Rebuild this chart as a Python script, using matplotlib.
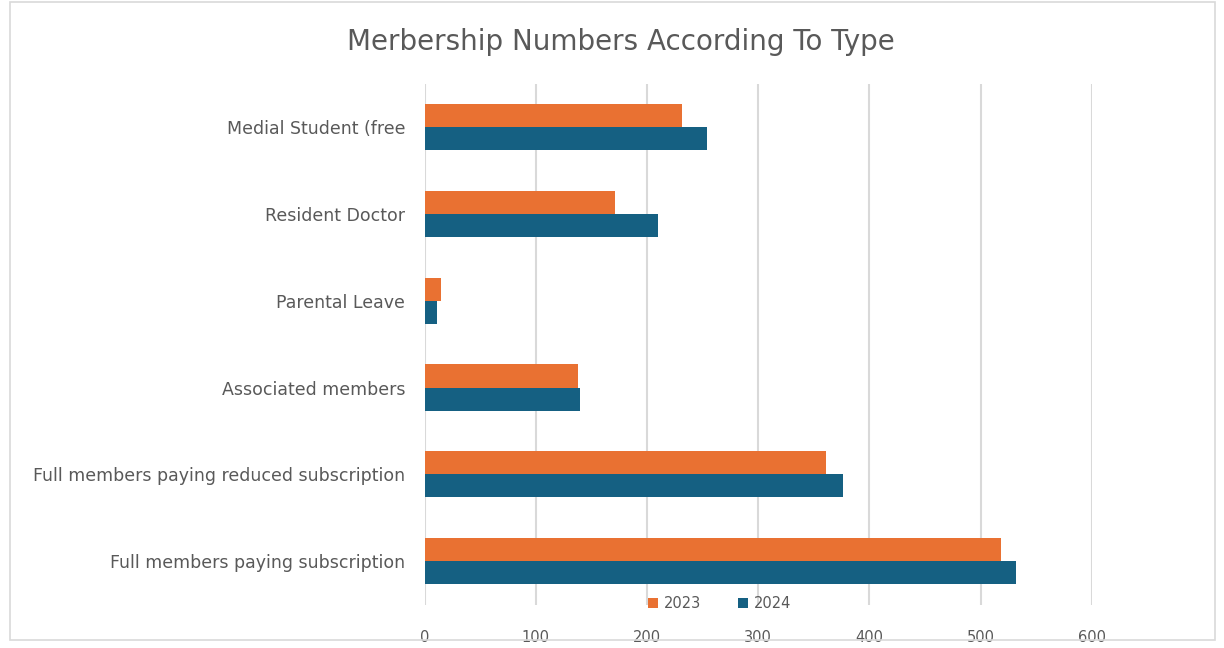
import matplotlib.pyplot as plt
import numpy as np
from matplotlib.patches import Rectangle

# membership data
categories = ["Medial Student (free", "Resident Doctor", "Parental Leave",
              "Associated members", "Full members paying reduced subscription",
              "Full members paying subscription"]
values_2023 = [231, 171, 15, 138, 361, 518]
values_2024 = [254, 210, 11, 140, 376, 532]
years = ["2023", "2024"]
x_ticks = [0, 100, 200, 300, 400, 500, 600]

orange = "#E97132"
blue = "#156082"
grey_text = "#595959"

fig = plt.figure(figsize=(12.24, 6.48), dpi=100)
ax = fig.add_axes([0.347, 0.067, 0.545, 0.804])

# light frame round the whole chart
fig.patches.append(Rectangle((0.008, 0.012), 0.985, 0.985, transform=fig.transFigure,
                             fill=False, edgecolor="#D9D9D9", linewidth=1.2))

y = np.arange(len(categories))
h = 0.265
ax.barh(y - h / 2, values_2023, height=h, color=orange, label=years[0], zorder=3)
ax.barh(y + h / 2, values_2024, height=h, color=blue, label=years[1], zorder=3)

ax.set_ylim(len(categories) - 0.5, -0.5)
ax.set_xlim(0, 600)
ax.set_yticks(y)
ax.set_yticklabels(categories, fontsize=12.5, color=grey_text)
ax.set_xticks(x_ticks)
ax.set_xticklabels([str(t) for t in x_ticks], fontsize=10.5, color=grey_text)
ax.tick_params(axis="y", length=0, pad=14)
ax.tick_params(axis="x", length=0, pad=18)
ax.grid(axis="x", color="#D9D9D9", linewidth=1.5, zorder=0)
for s in ax.spines.values():
    s.set_visible(False)

fig.text(0.507, 0.935, "Merbership Numbers According To Type", ha="center", va="center",
         fontsize=20, color=grey_text)

fig.legend(loc="center", bbox_to_anchor=(0.588, 0.069), ncol=2, frameon=False,
           fontsize=10.5, handlelength=0.7, handleheight=0.7, columnspacing=2.5,
           handletextpad=0.4, labelcolor=grey_text)

fig.savefig("out.png", dpi=100)
